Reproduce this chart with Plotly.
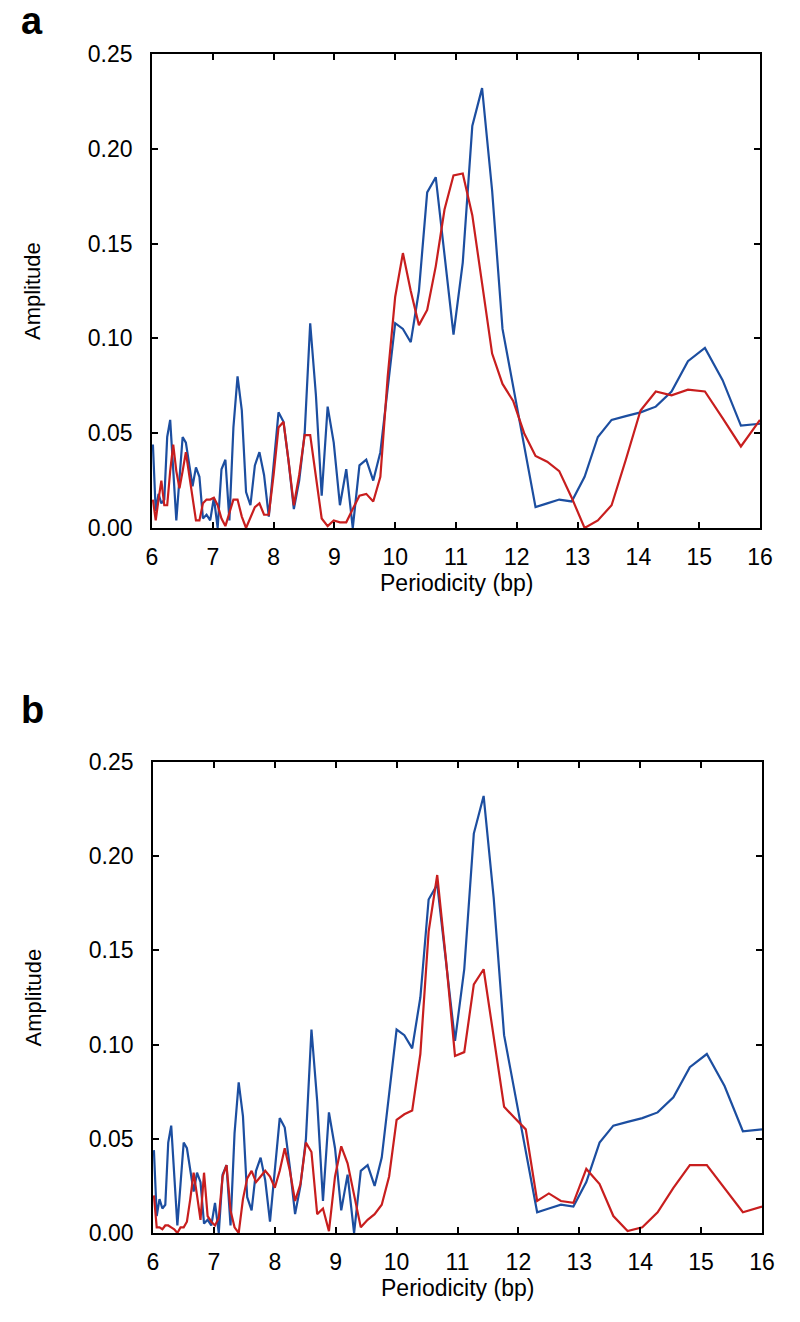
import plotly.graph_objects as go

# ---- data ----
periodicity = [6.015, 6.061, 6.107, 6.154, 6.202, 6.250, 6.299, 6.349, 6.400, 6.452,
               6.504, 6.557, 6.612, 6.667, 6.723, 6.780, 6.838, 6.897, 6.957, 7.018,
               7.080, 7.143, 7.207, 7.273, 7.339, 7.407, 7.477, 7.547, 7.619, 7.692,
               7.767, 7.843, 7.921, 8.000, 8.081, 8.163, 8.247, 8.333, 8.421, 8.511,
               8.602, 8.696, 8.791, 8.889, 8.989, 9.091, 9.195, 9.302, 9.412, 9.524,
               9.639, 9.756, 9.877, 10.000, 10.127, 10.256, 10.390, 10.526, 10.667, 10.811,
               10.959, 11.111, 11.268, 11.429, 11.594, 11.765, 11.940, 12.121, 12.308, 12.500,
               12.698, 12.903, 13.115, 13.333, 13.559, 13.793, 14.035, 14.286, 14.545, 14.815,
               15.094, 15.385, 15.686, 16.000]

blue_amp = [0.044, 0.009, 0.018, 0.013, 0.015, 0.048, 0.057, 0.030, 0.004, 0.026,
            0.048, 0.045, 0.033, 0.022, 0.032, 0.027, 0.005, 0.007, 0.004, 0.016,
            0.000, 0.031, 0.036, 0.004, 0.053, 0.080, 0.062, 0.019, 0.012, 0.033,
            0.040, 0.028, 0.006, 0.033, 0.061, 0.056, 0.035, 0.010, 0.025, 0.050,
            0.108, 0.070, 0.017, 0.064, 0.045, 0.012, 0.031, 0.000, 0.033, 0.036,
            0.025, 0.040, 0.075, 0.108, 0.105, 0.098, 0.125, 0.177, 0.185, 0.145,
            0.102, 0.140, 0.212, 0.232, 0.178, 0.105, 0.075, 0.045, 0.011, 0.013,
            0.015, 0.014, 0.027, 0.048, 0.057, 0.059, 0.061, 0.064, 0.072, 0.088,
            0.095, 0.078, 0.054, 0.055]

red_a_amp = [0.015, 0.004, 0.015, 0.025, 0.012, 0.012, 0.030, 0.044, 0.030, 0.021,
             0.030, 0.040, 0.028, 0.016, 0.004, 0.004, 0.013, 0.015, 0.015, 0.016,
             0.012, 0.005, 0.001, 0.008, 0.015, 0.015, 0.006, 0.000, 0.006, 0.011,
             0.013, 0.007, 0.007, 0.028, 0.053, 0.056, 0.035, 0.012, 0.028, 0.049,
             0.049, 0.028, 0.005, 0.001, 0.004, 0.003, 0.003, 0.010, 0.017, 0.018,
             0.014, 0.027, 0.080, 0.122, 0.145, 0.125, 0.107, 0.115, 0.138, 0.168,
             0.186, 0.187, 0.165, 0.129, 0.092, 0.076, 0.067, 0.050, 0.038, 0.035,
             0.030, 0.016, 0.000, 0.004, 0.012, 0.036, 0.062, 0.072, 0.070, 0.073,
             0.072, 0.058, 0.043, 0.057]

red_b_amp = [0.020, 0.003, 0.003, 0.002, 0.004, 0.004, 0.003, 0.002, 0.000, 0.003,
             0.003, 0.006, 0.018, 0.032, 0.020, 0.007, 0.032, 0.009, 0.006, 0.004,
             0.008, 0.030, 0.036, 0.012, 0.003, 0.000, 0.018, 0.029, 0.033, 0.027,
             0.030, 0.033, 0.030, 0.024, 0.033, 0.045, 0.033, 0.017, 0.026, 0.048,
             0.043, 0.010, 0.013, 0.001, 0.030, 0.046, 0.037, 0.020, 0.003, 0.007,
             0.010, 0.015, 0.030, 0.060, 0.063, 0.065, 0.095, 0.160, 0.190, 0.145,
             0.094, 0.096, 0.132, 0.140, 0.105, 0.067, 0.061, 0.055, 0.017, 0.021,
             0.017, 0.016, 0.034, 0.026, 0.009, 0.001, 0.003, 0.011, 0.024, 0.036,
             0.036, 0.024, 0.011, 0.014]

x_tick_vals = [6, 7, 8, 9, 10, 11, 12, 13, 14, 15, 16]
y_tick_vals = [0.00, 0.05, 0.10, 0.15, 0.20, 0.25]
panel_labels = ["a", "b"]
x_title = "Periodicity (bp)"
y_title = "Amplitude"

# ---- styling ----
OFF = 8                      # page body margin
W, H = 800 - OFF, 1322 - OFF
BLUE = "#1c4ea0"
RED = "#c81e1e"
FONT = "Liberation Sans, Arial, Helvetica, sans-serif"

def px_x(p):
    return (p - OFF) / W

def px_y(p):
    return 1 - (p - OFF) / H

fig = go.Figure()
series_sets = [(blue_amp, red_a_amp, "x", "y"), (blue_amp, red_b_amp, "x2", "y2")]
for b, r, xa, ya in series_sets:
    fig.add_trace(go.Scatter(x=periodicity, y=b, mode="lines", xaxis=xa, yaxis=ya,
                             line=dict(color=BLUE, width=2.2), showlegend=False))
    fig.add_trace(go.Scatter(x=periodicity, y=r, mode="lines", xaxis=xa, yaxis=ya,
                             line=dict(color=RED, width=2.2), showlegend=False))

axis_common = dict(showline=True, linecolor="black", linewidth=1.6, mirror="ticks",
                   ticks="inside", ticklen=6, tickwidth=1.6, tickcolor="black",
                   showgrid=False, zeroline=False, automargin=False,
                   tickfont=dict(family=FONT, size=23, color="black"))

panels = [  # (left, right, top, bottom) in page pixels; letter centre y
    (152, 760, 54, 528, 21),
    (153, 762, 762, 1233, 710),
]

layout_axes = {}
annotations = []
for i, (l, r, t, b, ly) in enumerate(panels):
    sfx = "" if i == 0 else str(i + 1)
    layout_axes["xaxis" + sfx] = dict(axis_common, range=[6, 16], tickvals=x_tick_vals,
                                      domain=[px_x(l), px_x(r)], anchor="y" + sfx,
                                      ticklabelstandoff=8)
    layout_axes["yaxis" + sfx] = dict(axis_common, range=[0, 0.25], tickvals=y_tick_vals,
                                      tickformat=".2f", domain=[px_y(b), px_y(t)],
                                      anchor="x" + sfx, ticklabelstandoff=13)
    annotations.append(dict(text=panel_labels[i], xref="paper", yref="paper",
                            x=px_x(19), y=px_y(ly), xanchor="left", yanchor="middle",
                            showarrow=False,
                            font=dict(family=FONT, size=38, color="black", weight="bold")))
    annotations.append(dict(text=x_title, xref="paper", yref="paper",
                            x=px_x((l + r) / 2), y=px_y(b + 55), xanchor="center",
                            yanchor="middle", showarrow=False,
                            font=dict(family=FONT, size=23, color="black")))
    annotations.append(dict(text=y_title, xref="paper", yref="paper",
                            x=px_x(33), y=px_y((t + b) / 2), xanchor="center",
                            yanchor="middle", textangle=-90, showarrow=False,
                            font=dict(family=FONT, size=22, color="black")))

fig.update_layout(width=W, height=H, autosize=False,
                  margin=dict(l=0, r=0, t=0, b=0),
                  paper_bgcolor="white", plot_bgcolor="white",
                  annotations=annotations, **layout_axes)

fig.write_html("out.html")
